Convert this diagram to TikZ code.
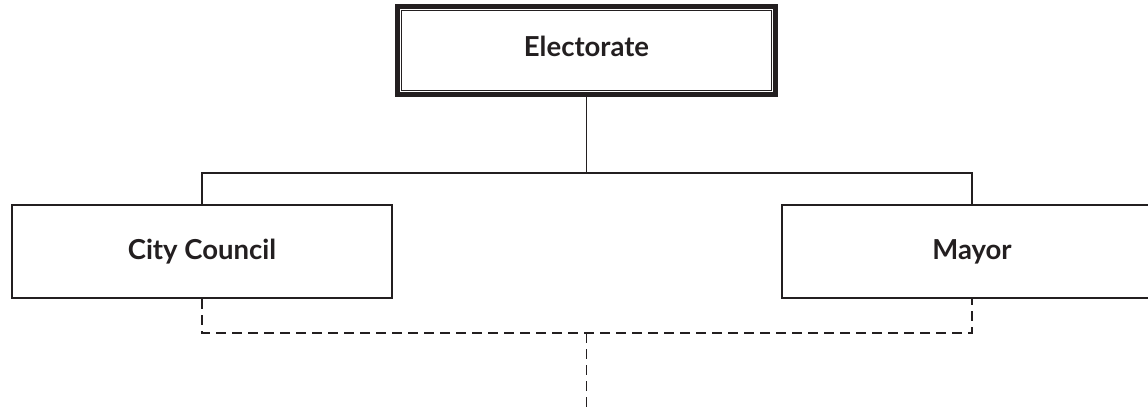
\documentclass[tikz,border=0pt]{standalone}
\usepackage{fontspec}
\setmainfont{Lato}
\definecolor{ink}{RGB}{35,31,32}
\begin{document}
\begin{tikzpicture}[x=1pt,y=-1pt,
  every node/.style={font=\fontsize{27.5}{32}\selectfont\bfseries, text=ink},
  box/.style={draw=ink, line width=2.6pt, rectangle, minimum width=380pt, minimum height=93pt, inner sep=0pt},
  topbox/.style={draw=ink, line width=5pt, rectangle, minimum width=378pt, minimum height=88pt, inner sep=0pt},
  link/.style={draw=ink, line width=1.5pt},
  dashlink/.style={draw=ink, line width=1.6pt, dash pattern=on 10pt off 6pt}]
\useasboundingbox (0,0) rectangle (1148,412);
\fill[white] (0,0) rectangle (1148,412);
\node[topbox] (e) at (586.5,50.5) {\raisebox{9pt}{Electorate}};
\draw[ink, line width=1.2pt] ([xshift=6.5pt,yshift=-6.5pt]e.north west) rectangle ([xshift=-6.5pt,yshift=6.5pt]e.south east);
\node[box] (cc) at (202,251.5) {City Council};
\node[box] (m) at (972,251.5) {Mayor};
\coordinate (top) at (586.5,173);
\coordinate (bot) at (586.5,333);
\coordinate (end) at (586.5,420);
\draw[link] (e.south) -- (top);
\draw[link] (cc.north) |- (top) -| (m.north);
\draw[dashlink] (cc.south) |- (bot) -| (m.south);
\draw[dashlink] (bot) -- (end);
\end{tikzpicture}
\end{document}
